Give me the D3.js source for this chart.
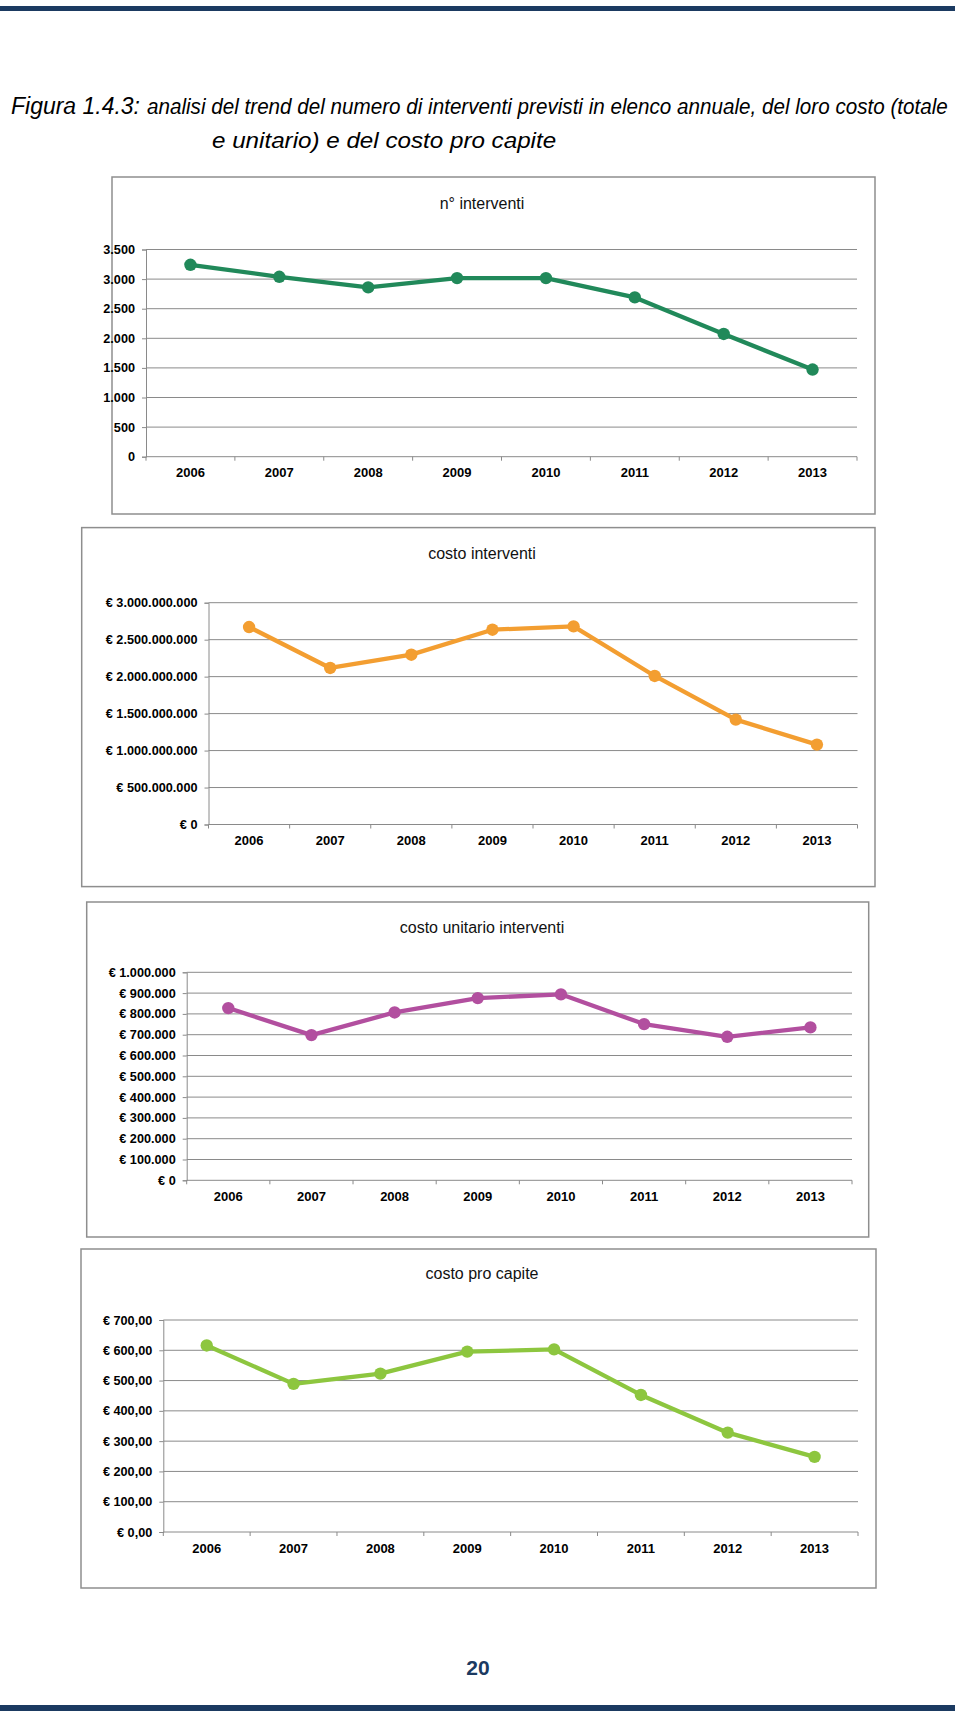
<!DOCTYPE html>
<html><head><meta charset="utf-8">
<script src="https://cdn.jsdelivr.net/npm/d3@7"></script>
<style>
html,body{margin:0;padding:0;background:#fff;}
svg{display:block;}
text{font-family:"Liberation Sans",Arial,sans-serif;}
</style></head>
<body>
<svg id="page" width="960" height="1717"></svg>
<script>
// ---------- data ----------
const years = ["2006","2007","2008","2009","2010","2011","2012","2013"];
const nInterventi = [3242, 3039, 2860, 3017, 3017, 2691, 2073, 1472];
const costoInterventi = [2671e6, 2117e6, 2297e6, 2635e6, 2680e6, 2009e6, 1419e6, 1081e6];
const costoUnitario = [828000, 698000, 807000, 876000, 894000, 751000, 690000, 735000];
const costoProCapite = [616, 489, 523, 595.5, 603, 452.5, 328, 248];

const ticksN = [0,500,1000,1500,2000,2500,3000,3500];
const ticksCosto = [0,5e8,1e9,1.5e9,2e9,2.5e9,3e9];
const ticksUnit = [0,1e5,2e5,3e5,4e5,5e5,6e5,7e5,8e5,9e5,1e6];
const ticksCapite = [0,100,200,300,400,500,600,700];

const chartTitles = ["n° interventi","costo interventi","costo unitario interventi","costo pro capite"];
const captionHead = "Figura 1.4.3:";
const captionLine1 = "analisi del trend del numero di interventi previsti in elenco annuale, del loro costo (totale";
const captionLine2 = "e unitario) e del costo pro capite";
const pageNumber = "20";

// ---------- formatting ----------
const itLocale = d3.formatLocale({decimal:",", thousands:".", grouping:[3], currency:["€ ",""]});
const fmtInt = itLocale.format(",d");
const fmtEuro = v => "€ " + itLocale.format(",d")(v);
const fmtEuro2 = v => "€ " + itLocale.format(",.2f")(v);

// ---------- layout ----------
const charts = [
  {values:nInterventi, ticks:ticksN, fmt:fmtInt, color:"#21895a", title:chartTitles[0],
   box:[112,177,763,337], px:[146,857], py:[249.5,456.7], ty:203},
  {values:costoInterventi, ticks:ticksCosto, fmt:fmtEuro, color:"#f39e31", title:chartTitles[1],
   box:[81.7,527.6,793.3,359], px:[208.5,857.5], py:[602.7,824.5], ty:553},
  {values:costoUnitario, ticks:ticksUnit, fmt:fmtEuro, color:"#b24f9f", title:chartTitles[2],
   box:[86.7,902,782,335], px:[186.7,852], py:[972.3,1180.3], ty:927},
  {values:costoProCapite, ticks:ticksCapite, fmt:fmtEuro2, color:"#8dc63f", title:chartTitles[3],
   box:[81,1249,795,339], px:[163.3,858], py:[1320,1532], ty:1273}
];

const svg = d3.select("#page");
const navy = "#1b3a61";

// top and bottom bars
svg.append("rect").attr("x",0).attr("y",6).attr("width",955).attr("height",5).attr("fill",navy);
svg.append("rect").attr("x",0).attr("y",1705).attr("width",955).attr("height",6).attr("fill",navy);

// caption: widths fitted to the reference spans by a horizontal scale
function captionText(str, size) {
  const g = svg.append("g");
  const t = g.append("text").attr("x",0).attr("y",0).attr("font-style","italic")
    .attr("font-size",size).attr("fill","#000").text(str);
  return {g, w: t.node().getComputedTextLength()};
}
const h = captionText(captionHead, 24);
h.g.attr("transform",`translate(11,114) scale(${(140-11)/h.w},1)`);
const a = captionText(captionLine1, 22);
a.g.attr("transform",`translate(147,114) scale(${(948-147)/a.w},1)`);
const b = captionText(captionLine2, 22);
b.g.attr("transform",`translate(212,148) scale(1.1,1)`);

// page number
svg.append("text").attr("x",478).attr("y",1675).attr("text-anchor","middle")
  .attr("font-size",21).attr("font-weight","bold").attr("fill",navy).text(pageNumber);

// charts
charts.forEach(c => {
  const g = svg.append("g");
  const [bx,by,bw,bh] = c.box;
  g.append("rect").attr("x",bx).attr("y",by).attr("width",bw).attr("height",bh)
    .attr("fill","#fff").attr("stroke","#8e8e8e").attr("stroke-width",1.5);
  g.append("text").attr("x",482).attr("y",c.ty).attr("dy","0.35em").attr("text-anchor","middle")
    .attr("font-size",16).attr("fill","#111").text(c.title);

  const x = d3.scaleBand().domain(years).range(c.px).paddingInner(0).paddingOuter(0);
  const y = d3.scaleLinear().domain([0, d3.max(c.ticks)]).range([c.py[1], c.py[0]]);

  // gridlines
  g.append("g").selectAll("line").data(c.ticks.filter(t=>t>0)).join("line")
    .attr("x1",c.px[0]).attr("x2",c.px[1]).attr("y1",d=>y(d)).attr("y2",d=>y(d))
    .attr("stroke","#8a8a8a").attr("stroke-width",1);

  // y axis
  const ya = g.append("g").attr("transform",`translate(${c.px[0]},0)`)
    .call(d3.axisLeft(y).tickValues(c.ticks).tickFormat(c.fmt).tickSize(4).tickPadding(7));
  ya.select(".domain").attr("stroke","#8a8a8a");
  ya.selectAll(".tick line").attr("stroke","#8a8a8a");
  ya.selectAll("text").attr("font-size",12.7).attr("font-weight","bold").attr("fill","#000")
    .attr("font-family","'Liberation Sans',Arial,sans-serif");

  // x axis: ticks at category boundaries
  const xa = g.append("g").attr("transform",`translate(0,${c.py[1]})`);
  xa.append("line").attr("x1",c.px[0]).attr("x2",c.px[1]).attr("stroke","#8a8a8a");
  const bounds = years.map(d=>x(d)).concat([c.px[1]]);
  xa.selectAll("line.tk").data(bounds).join("line").attr("class","tk")
    .attr("x1",d=>d).attr("x2",d=>d).attr("y1",0).attr("y2",4).attr("stroke","#8a8a8a");
  xa.selectAll("text").data(years).join("text")
    .attr("x",d=>x(d)+x.bandwidth()/2).attr("y",16).attr("dy","0.35em")
    .attr("text-anchor","middle").attr("font-size",13).attr("font-weight","bold").attr("fill","#000")
    .text(d=>d);

  // line + markers
  const pts = years.map((d,i)=>[x(d)+x.bandwidth()/2, y(c.values[i])]);
  g.append("path").attr("d",d3.line()(pts)).attr("fill","none")
    .attr("stroke",c.color).attr("stroke-width",4.3).attr("stroke-linejoin","round");
  g.append("g").selectAll("circle").data(pts).join("circle")
    .attr("cx",d=>d[0]).attr("cy",d=>d[1]).attr("r",6.2).attr("fill",c.color);
});
</script>
</body></html>
